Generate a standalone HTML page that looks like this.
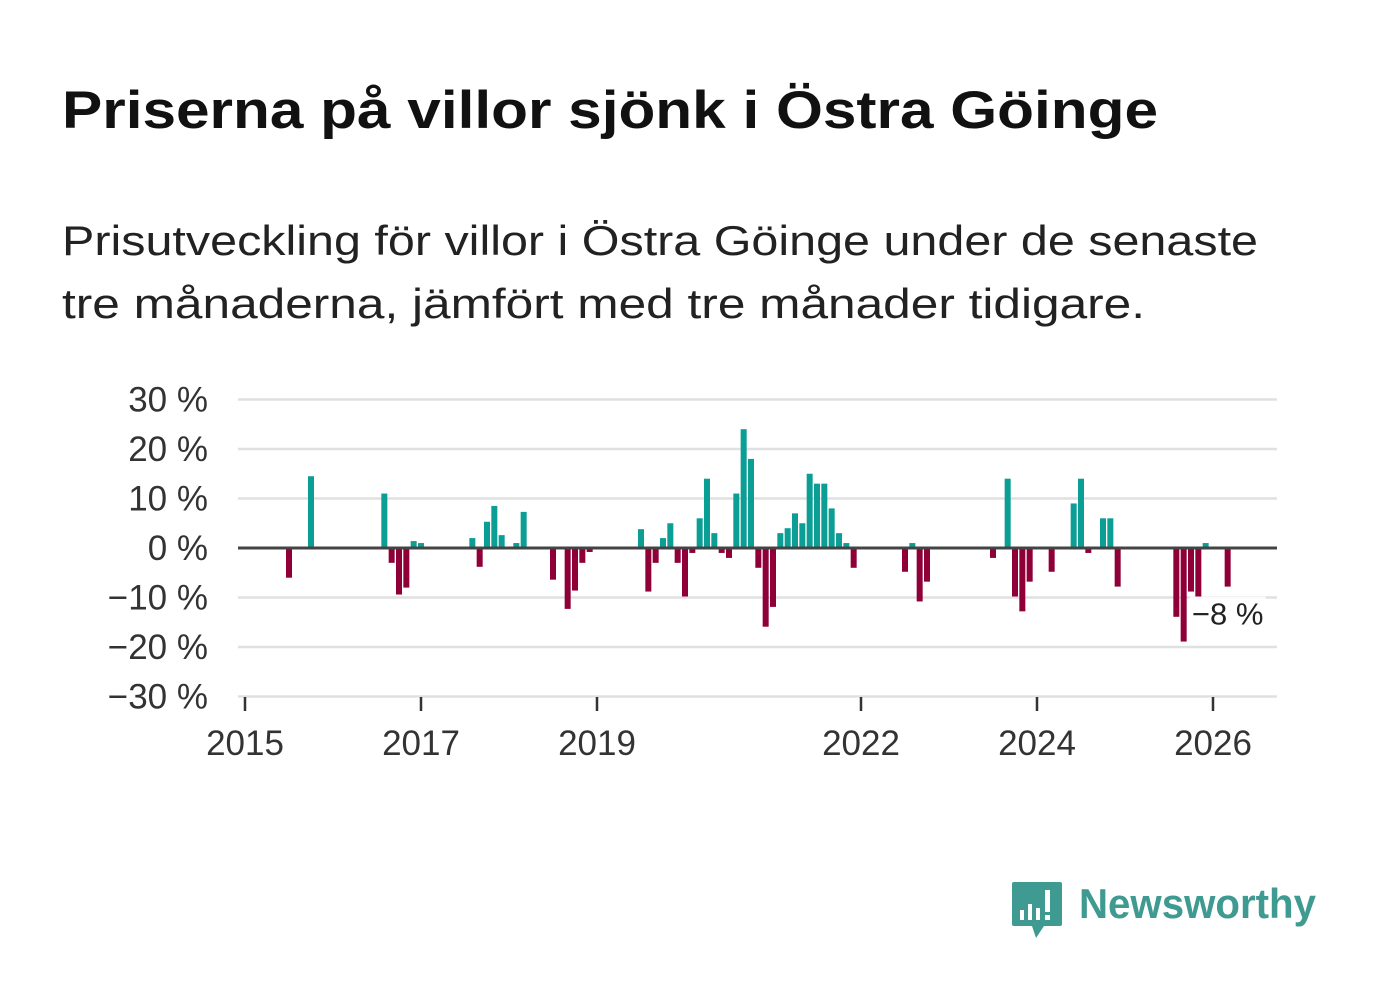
<!DOCTYPE html>
<html><head><meta charset="utf-8"><style>
body{margin:0;background:#fff;width:1382px;height:999px;overflow:hidden;font-family:"Liberation Sans","DejaVu Sans",sans-serif}
</style></head><body>
<svg width="1382" height="999" xmlns="http://www.w3.org/2000/svg">
<text x="62" y="128" font-size="53" font-weight="bold" fill="#111" textLength="1096" lengthAdjust="spacingAndGlyphs">Priserna på villor sjönk i Östra Göinge</text>
<text x="62" y="255" font-size="42" fill="#222" textLength="1196" lengthAdjust="spacingAndGlyphs">Prisutveckling för villor i Östra Göinge under de senaste</text>
<text x="62" y="318" font-size="42" fill="#222" textLength="1083" lengthAdjust="spacingAndGlyphs">tre månaderna, jämfört med tre månader tidigare.</text>
<g id="grid"></g><g id="bars"></g><g id="axes"></g>
<g>
<path d="M1014 882 h46 a2 2 0 0 1 2 2 v40 a2 2 0 0 1-2 2 h-16 l-8 12 l-4-12 h-18 a2 2 0 0 1-2-2 v-40 a2 2 0 0 1 2-2z" fill="#3f9a92"/>
<rect x="1020" y="910" width="4" height="10" fill="#fff"/><rect x="1028" y="904" width="4" height="16" fill="#fff"/><rect x="1036" y="908" width="4" height="12" fill="#fff"/><rect x="1045" y="890" width="5" height="22" fill="#fff"/><rect x="1045" y="915" width="5" height="5" fill="#fff"/>
<text x="1079" y="918" font-size="42" font-weight="bold" fill="#3f9a92" textLength="237" lengthAdjust="spacingAndGlyphs">Newsworthy</text>
</g>
</svg>
<script>
const months=[6,9,19,20,21,22,23,24,31,32,33,34,35,37,38,42,44,45,46,47,54,55,56,57,58,59,60,61,62,63,64,65,66,67,68,69,70,71,72,73,74,75,76,77,78,79,80,81,82,83,90,91,92,93,102,104,105,106,107,110,113,114,115,117,118,119,127,128,129,130,131,134];
const values=[-6,14.5,11,-3,-9.4,-8,1.4,1,2,-3.8,5.3,8.5,2.6,1,7.3,-6.4,-12.3,-8.6,-3,-0.8,3.8,-8.8,-3,2,5,-3,-9.8,-1,6,14,3,-1,-2,11,24,18,-4,-15.9,-11.9,3,4,7,5,15,13,13,8,3,1,-4,-4.8,1,-10.8,-6.8,-2,14,-9.8,-12.8,-6.8,-4.8,9,14,-1,6,6,-7.8,-13.9,-18.9,-8.8,-9.8,1,-7.8];
const yTicks=[30,20,10,0,-10,-20,-30];
const yTickLabels=["30 %","20 %","10 %","0 %","−10 %","−20 %","−30 %"];
const xTickYears=[2015,2017,2019,2022,2024,2026];
const lastLabel="−8 %";
const NS="http://www.w3.org/2000/svg";
const X=m=>245+m*88/12, Y=v=>548-v*4.95;
function mk(t,a,p){const e=document.createElementNS(NS,t);for(const k in a)e.setAttribute(k,a[k]);p.appendChild(e);return e;}
const grid=document.getElementById('grid'),bars=document.getElementById('bars'),axes=document.getElementById('axes');
yTicks.forEach((v,i)=>{
 if(v!==0){const l=mk('line',{x1:238,x2:1277,y1:Y(v),y2:Y(v),stroke:'#e0e0e0','stroke-width':2.5},grid);
 
 }
 const t=mk('text',{x:208,y:Y(v)+12,'font-size':35,fill:'#333','text-anchor':'end'},axes);t.textContent=yTickLabels[i];
 
 
});
months.forEach((m,i)=>{const v=values[i];
 const r=mk('rect',{x:X(m)-3,y:Math.min(Y(v),548),width:6,height:Math.abs(Y(v)-548),fill:v>=0?'#0a9e94':'#8f0039'},bars);
 
 
});
const z=mk('line',{x1:238,x2:1277,y1:548,y2:548,stroke:'#444','stroke-width':3},axes);


xTickYears.forEach(y=>{const x=X((y-2015)*12);
 const tk=mk('line',{x1:x,x2:x,y1:697,y2:711,stroke:'#333','stroke-width':2.5},axes);
 
 
 const t=mk('text',{x:x,y:755,'font-size':35,fill:'#333','text-anchor':'middle'},axes);t.textContent=y;
 
 
});
const lm=months[months.length-1],lv=values[values.length-1];
const bg=mk('rect',{x:X(lm)-38,y:Y(lv)+10,width:76,height:34,fill:'#fff','fill-opacity':0.85},axes);


const lt=mk('text',{x:X(lm),y:Y(lv)+38,'font-size':31,fill:'#222','text-anchor':'middle'},axes);lt.textContent=lastLabel;


</script>
</body></html>
